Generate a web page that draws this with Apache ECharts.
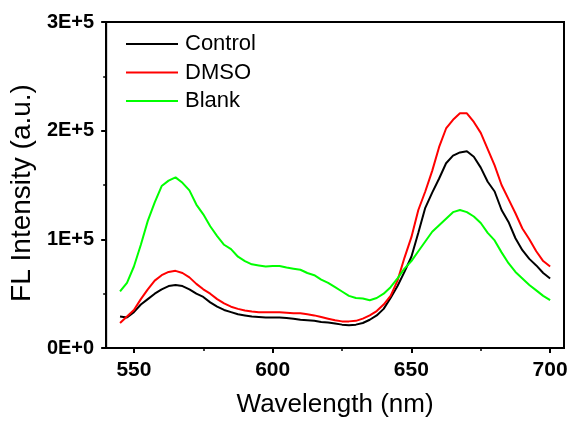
<!DOCTYPE html>
<html>
<head>
    <meta charset="utf-8">
    <title>FL Intensity</title>
    <script src="https://cdn.jsdelivr.net/npm/echarts@6/dist/echarts.min.js"></script>
    <style>
        html, body { margin:0; padding:0; background:#fff; }
        #chart { width:573px; height:423px; }
    </style>
</head>
<body>
<div id="chart"></div>
<script>
// wavelength (nm), step 2.5
var wavelength = [545, 547.5, 550, 552.5, 555, 557.5, 560, 562.5, 565, 567.5, 570, 572.5, 575, 577.5, 580, 582.5,
    585, 587.5, 590, 592.5, 595, 597.5, 600, 602.5, 605, 607.5, 610, 612.5, 615, 617.5, 620, 622.5,
    625, 627.5, 630, 632.5, 635, 637.5, 640, 642.5, 645, 647.5, 650, 652.5, 655, 657.5, 660, 662.5,
    665, 667.5, 670, 672.5, 675, 677.5, 680, 682.5, 685, 687.5, 690, 692.5, 695, 697.5, 700];
// intensities in units of 1E+5
var control = [0.29, 0.28, 0.33, 0.40, 0.45, 0.50, 0.54, 0.57, 0.58, 0.57, 0.54, 0.50, 0.47, 0.42, 0.38, 0.35,
    0.33, 0.31, 0.30, 0.29, 0.285, 0.28, 0.28, 0.28, 0.275, 0.27, 0.26, 0.255, 0.25, 0.24, 0.235, 0.225,
    0.215, 0.21, 0.215, 0.23, 0.26, 0.30, 0.36, 0.46, 0.57, 0.70, 0.84, 1.06, 1.29, 1.43, 1.56, 1.70,
    1.77, 1.80, 1.81, 1.76, 1.66, 1.53, 1.44, 1.27, 1.16, 1.01, 0.90, 0.82, 0.76, 0.69, 0.64];
var dmso = [0.23, 0.29, 0.35, 0.45, 0.54, 0.62, 0.67, 0.70, 0.71, 0.69, 0.65, 0.59, 0.54, 0.50, 0.45, 0.41,
    0.38, 0.36, 0.345, 0.335, 0.33, 0.33, 0.33, 0.33, 0.325, 0.32, 0.32, 0.31, 0.30, 0.285, 0.27, 0.255,
    0.245, 0.245, 0.25, 0.27, 0.30, 0.34, 0.40, 0.48, 0.62, 0.83, 1.02, 1.27, 1.44, 1.63, 1.85, 2.02,
    2.10, 2.16, 2.16, 2.08, 1.98, 1.83, 1.68, 1.50, 1.37, 1.24, 1.10, 1.00, 0.89, 0.80, 0.75];
var blank = [0.52, 0.60, 0.75, 0.95, 1.17, 1.34, 1.49, 1.54, 1.57, 1.52, 1.45, 1.32, 1.23, 1.12, 1.03, 0.95,
    0.91, 0.84, 0.80, 0.77, 0.76, 0.75, 0.755, 0.755, 0.74, 0.73, 0.72, 0.69, 0.67, 0.63, 0.60, 0.56,
    0.52, 0.48, 0.46, 0.455, 0.44, 0.46, 0.50, 0.56, 0.64, 0.73, 0.80, 0.89, 0.98, 1.07, 1.13, 1.19,
    1.25, 1.27, 1.25, 1.21, 1.15, 1.06, 0.99, 0.88, 0.78, 0.70, 0.64, 0.58, 0.53, 0.48, 0.44];
var xMajorTicks = [550, 600, 650, 700];
var xMinorTicks = [575, 625, 675];

function pairs(ys) {
    return wavelength.map(function (x, i) { return [x, ys[i]]; });
}

var font = 'Arial, "Liberation Sans", sans-serif';
var chart = echarts.init(document.getElementById('chart'));

var option = {
    animation: false,
    backgroundColor: '#fff',
    grid: {
        left: 105, right: 9, top: 22, bottom: 75,
        show: true, borderColor: '#000', borderWidth: 2
    },
    legend: {
        orient: 'vertical',
        left: 120, top: 28,
        itemWidth: 52, itemHeight: 22, itemGap: 6.5,
        itemStyle: { opacity: 0 },
        textStyle: { fontFamily: font, fontSize: 22, color: '#000', padding: [0, 0, 0, 2] },
        data: ['Control', 'DMSO', 'Blank']
    },
    xAxis: [{
        type: 'value',
        min: 540, max: 705,
        name: 'Wavelength (nm)',
        nameLocation: 'middle',
        nameGap: 44,
        nameTextStyle: { fontFamily: font, fontSize: 26, color: '#000' },
        axisLine: { lineStyle: { color: '#000', width: 2 } },
        axisTick: { customValues: xMajorTicks, length: 5, lineStyle: { width: 2, color: '#000' } },
        axisLabel: { customValues: xMajorTicks, margin: 12, fontFamily: font, fontSize: 21, fontWeight: 'bold', color: '#000' },
        splitLine: { show: false }
    }, {
        type: 'value',
        min: 540, max: 705,
        position: 'bottom',
        axisLine: { show: false },
        axisTick: { customValues: xMinorTicks, length: 3, lineStyle: { width: 1.5, color: '#000' } },
        axisLabel: { show: false },
        splitLine: { show: false }
    }],
    yAxis: {
        type: 'value',
        min: 0, max: 3, interval: 1,
        name: 'FL Intensity (a.u.)',
        nameLocation: 'middle',
        nameRotate: 90,
        nameGap: 56,
        nameTextStyle: { fontFamily: font, fontSize: 28, color: '#000', padding: [0, 16, 0, 0] },
        axisLine: { show: true, lineStyle: { color: '#000', width: 2 } },
        axisTick: { show: true, length: 5, lineStyle: { width: 2, color: '#000' } },
        minorTick: { show: true, splitNumber: 2, length: 3, lineStyle: { width: 1.5, color: '#000' } },
        axisLabel: {
            margin: 12, fontFamily: font, fontSize: 20, fontWeight: 'bold', color: '#000',
            formatter: function (v) { return v === 0 ? '0E+0' : v + 'E+5'; }
        },
        splitLine: { show: false }
    },
    series: [
        { name: 'Control', type: 'line', symbol: 'none', data: pairs(control),
          lineStyle: { color: '#000000', width: 2 }, itemStyle: { color: '#000000' } },
        { name: 'DMSO', type: 'line', symbol: 'none', data: pairs(dmso),
          lineStyle: { color: '#ff0000', width: 2 }, itemStyle: { color: '#ff0000' } },
        { name: 'Blank', type: 'line', symbol: 'none', data: pairs(blank),
          lineStyle: { color: '#00ff00', width: 2 }, itemStyle: { color: '#00ff00' } }
    ]
};

chart.setOption(option);
</script>
</body>
</html>
